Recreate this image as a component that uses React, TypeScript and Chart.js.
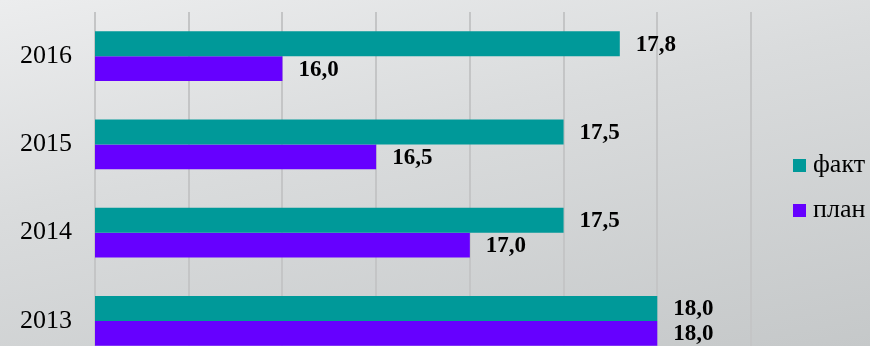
import React, { useEffect, useRef } from 'react';
import { Chart, registerables } from 'chart.js';

Chart.register(...registerables);

const categories = ['2016', '2015', '2014', '2013'];
const factValues = [17.8, 17.5, 17.5, 18.0];
const planValues = [16.0, 16.5, 17.0, 18.0];
const seriesNames = ['факт', 'план'];
const seriesColors = ['#009999', '#6600FF'];
const xMin = 15;
const xMax = 18.5;
const xStep = 0.5;

const SERIF = "'Liberation Serif', 'Times New Roman', serif";

const valueLabels = {
  id: 'valueLabels',
  afterDatasetsDraw(chart: any) {
    const ctx = chart.ctx;
    ctx.save();
    ctx.font = `bold 23px ${SERIF}`;
    ctx.fillStyle = '#000';
    ctx.textAlign = 'left';
    ctx.textBaseline = 'middle';
    chart.data.datasets.forEach((ds: any, di: number) => {
      const meta = chart.getDatasetMeta(di);
      meta.data.forEach((bar: any, i: number) => {
        const v = ds.data[i] as number;
        ctx.fillText(v.toFixed(1).replace('.', ','), bar.x + 16, bar.y + 1);
      });
    });
    ctx.restore();
  },
};

const sideLegend = {
  id: 'sideLegend',
  afterDraw(chart: any) {
    const ctx = chart.ctx;
    const area = chart.chartArea;
    const cy = (area.top + area.bottom) / 2;
    const gap = 45;
    ctx.save();
    ctx.font = `26px ${SERIF}`;
    ctx.textAlign = 'left';
    ctx.textBaseline = 'middle';
    chart.data.datasets.forEach((ds: any, di: number) => {
      const y = cy - gap / 2 + di * gap;
      const x = area.right + 42;
      ctx.fillStyle = ds.backgroundColor;
      ctx.fillRect(x, y - 7, 13, 13);
      ctx.fillStyle = '#000';
      ctx.fillText(ds.label, x + 20, y - 1);
    });
    ctx.restore();
  },
};

export default function App() {
  const ref = useRef<HTMLCanvasElement | null>(null);

  useEffect(() => {
    if (!ref.current) return;
    const chart = new Chart(ref.current, {
      type: 'bar',
      data: {
        labels: categories,
        datasets: [
          {
            label: seriesNames[0],
            data: factValues,
            backgroundColor: seriesColors[0],
            barPercentage: 1,
            categoryPercentage: 0.566,
          },
          {
            label: seriesNames[1],
            data: planValues,
            backgroundColor: seriesColors[1],
            barPercentage: 1,
            categoryPercentage: 0.566,
          },
        ],
      },
      options: {
        indexAxis: 'y',
        animation: false,
        responsive: false,
        maintainAspectRatio: false,
        layout: { padding: { left: 20, top: 12, right: 119, bottom: 1 } },
        plugins: {
          legend: { display: false },
          tooltip: { enabled: false },
        },
        scales: {
          x: {
            min: xMin,
            max: xMax,
            ticks: { display: false, stepSize: xStep },
            grid: { color: '#c4c5c6', lineWidth: 2, drawTicks: false },
            border: { display: false },
          },
          y: {
            grid: { display: false, drawTicks: false },
            border: { display: false },
            ticks: {
              color: '#000',
              padding: 23,
              font: { family: SERIF, size: 26 },
            },
            afterFit: (scale: any) => {
              scale.width = 75;
              scale.paddingTop = 0;
              scale.paddingBottom = 0;
              scale.paddingLeft = 0;
              scale.paddingRight = 0;
            },
          },
        },
      },
      plugins: [valueLabels, sideLegend],
    });
    return () => chart.destroy();
  }, []);

  return (
    <div
      style={{
        position: 'fixed',
        left: 0,
        top: 0,
        width: 870,
        height: 346,
        overflow: 'hidden',
        background: 'linear-gradient(168deg, #ecedee 0%, #dadcdd 40%, #c5c8c9 100%)',
      }}
    >
      <canvas ref={ref} width={870} height={366} style={{ display: 'block' }} />
    </div>
  );
}
